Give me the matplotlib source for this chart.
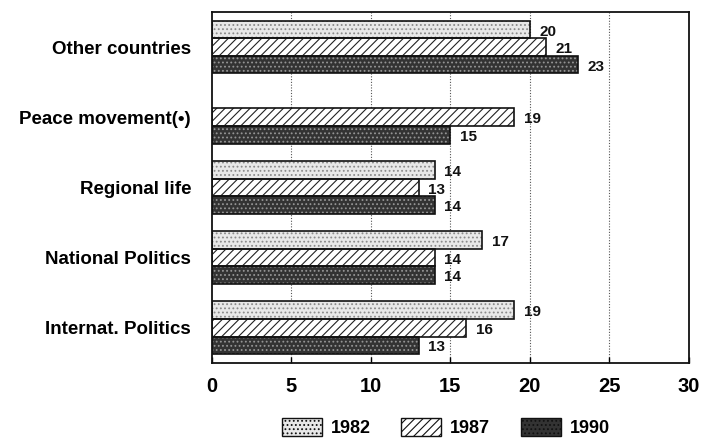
import numpy as np
import matplotlib
matplotlib.use("Agg")
import matplotlib.pyplot as plt
from matplotlib.patches import Patch

plt.rcParams.update({"font.family": "Liberation Sans", "font.weight": "bold",
                     "hatch.linewidth": 0.8})

categories = ["Internat. Politics", "National Politics", "Regional life",
              "Peace movement(•)", "Other countries"]
years = ["1982", "1987", "1990"]
v1982 = [19, 17, 14, np.nan, 20]
v1987 = [16, 14, 13, 19, 21]
v1990 = [13, 14, 14, 15, 23]

# (face, hatch, hatch colour) per series
styles = [("#e8e8e8", "....", "#8a8a8a"),
          ("white", "////", "#222222"),
          ("#333333", "....", "#959595")]

fig = plt.figure(figsize=(7.11, 4.42), dpi=100)
fig.patch.set_facecolor("white")
ax = fig.add_axes([0.298, 0.179, 0.671, 0.794])

y = np.arange(len(categories))
h = 0.25
for vals, off, (fc, hatch, hc) in zip([v1982, v1987, v1990], [h, 0, -h], styles):
    vals = np.array(vals, dtype=float)
    ok = ~np.isnan(vals)
    ax.barh(y[ok] + off, vals[ok], h, color=fc, hatch=hatch, edgecolor=hc, lw=0, zorder=2)
    ax.barh(y[ok] + off, vals[ok], h, fill=False, edgecolor="#111", lw=1.2, zorder=3)
    for yy, v in zip(y[ok] + off, vals[ok]):
        ax.text(v + 0.6, yy - 0.03, f"{v:.0f}", ha="left", va="center",
                fontsize=11, fontweight="bold", color="#111")

ax.set_xlim(0, 30); ax.set_ylim(-0.5, 4.5)
ax.set_xticks(range(0, 31, 5))
ax.set_xticklabels([str(t) for t in range(0, 31, 5)], fontsize=14.5, fontweight="bold")
ax.set_yticks(y); ax.set_yticklabels(categories, fontsize=13.5, fontweight="bold")
ax.tick_params(axis="y", length=0, pad=15)
ax.tick_params(axis="x", direction="in", length=4, width=1, pad=10)
for x in range(5, 30, 5):
    ax.axvline(x, color="#555", lw=0.8, ls=(0, (1, 1.5)), zorder=1)
for s in ax.spines.values():
    s.set_linewidth(1.3); s.set_color("#111")

handles = [Patch(facecolor=fc, hatch=hatch, edgecolor="#111", lw=1.0) for fc, hatch, hc in styles]
fig.legend(handles, years, loc="center", bbox_to_anchor=(0.627, 0.032), ncol=3,
           frameon=False, handlelength=2.2, handleheight=1.1,
           columnspacing=1.7, handletextpad=0.5, prop={"weight": "bold", "size": 13})

fig.savefig("out.png", dpi=100, facecolor="white")
